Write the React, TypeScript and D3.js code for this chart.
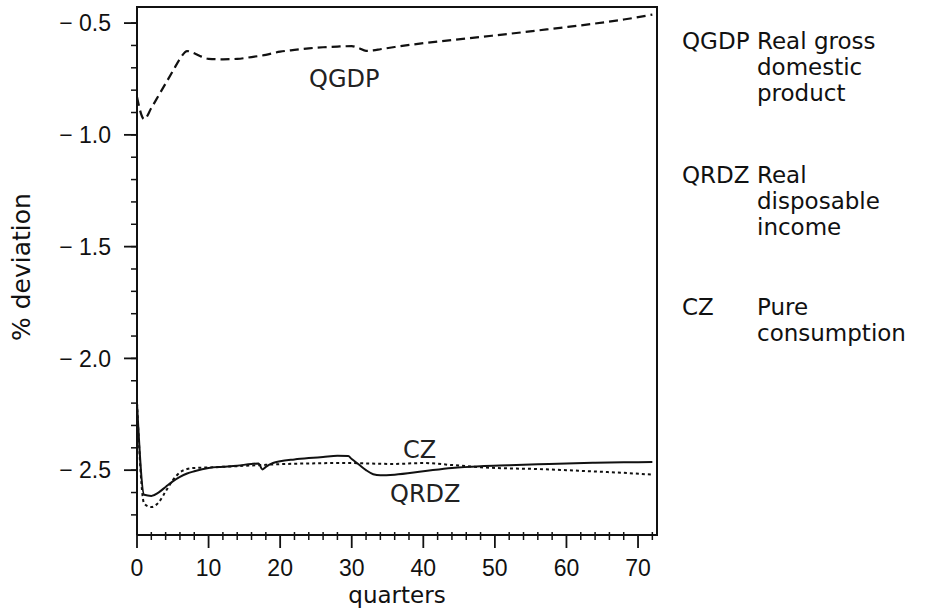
import * as d3 from 'd3';

// quarters and % deviation
const gdpQuarters = [0, 1, 2, 3, 4, 5, 6, 7, 8, 9, 10, 12, 14, 16, 18, 20, 22, 24, 26, 28, 30, 31, 32, 33, 34, 36, 40, 44, 48, 52, 56, 60, 64, 68, 72];
const gdpValues = [-0.83, -0.93, -0.88, -0.825, -0.77, -0.715, -0.66, -0.625, -0.635, -0.65, -0.66, -0.662, -0.66, -0.652, -0.642, -0.628, -0.62, -0.613, -0.608, -0.605, -0.603, -0.612, -0.624, -0.622, -0.617, -0.607, -0.59, -0.576, -0.562, -0.548, -0.533, -0.518, -0.502, -0.484, -0.462];

const rdzQuarters = [0, 1, 2, 3, 4, 5, 6, 7, 8, 10, 12, 14, 16, 17, 17.5, 18, 19, 20, 22, 24, 26, 28, 29.5, 30, 31, 32, 33, 34, 36, 40, 44, 48, 52, 56, 60, 64, 68, 72];
const rdzValues = [-2.2, -2.61, -2.615, -2.6, -2.575, -2.55, -2.53, -2.515, -2.505, -2.49, -2.485, -2.48, -2.472, -2.47, -2.497, -2.485, -2.468, -2.46, -2.452, -2.446, -2.441, -2.436, -2.437, -2.45, -2.475, -2.5, -2.518, -2.523, -2.52, -2.505, -2.49, -2.482, -2.478, -2.474, -2.47, -2.467, -2.465, -2.463];

const czQuarters = [0, 1, 2, 3, 4, 5, 6, 7, 8, 10, 12, 14, 16, 18, 20, 24, 28, 30, 32, 36, 40, 44, 48, 52, 56, 60, 64, 68, 72];
const czValues = [-2.2, -2.65, -2.665, -2.645, -2.595, -2.545, -2.51, -2.495, -2.49, -2.488, -2.485, -2.482, -2.479, -2.476, -2.473, -2.47, -2.468, -2.468, -2.47, -2.472, -2.468, -2.477, -2.487, -2.492, -2.495, -2.5, -2.506, -2.512, -2.52];

const yMajor = [-0.5, -1.0, -1.5, -2.0, -2.5];
const xMajor = [0, 10, 20, 30, 40, 50, 60, 70];

const legendRows = [
  { code: 'QGDP', lines: ['Real gross', 'domestic', 'product'] },
  { code: 'QRDZ', lines: ['Real', 'disposable', 'income'] },
  { code: 'CZ', lines: ['Pure', 'consumption'] },
];

const width = 928;
const height = 608;
const tickFont = '"Liberation Sans", Arial, sans-serif';
const labelFont = '"DejaVu Sans", sans-serif';

export default function App() {
  const x = d3.scaleLinear().domain([0, 72.65]).range([137, 657]);
  const y = d3.scaleLinear().domain([-2.79, -0.428]).range([535, 7]);

  const line = d3.line<[number, number]>()
    .x(d => x(d[0]))
    .y(d => y(d[1]))
    .curve(d3.curveMonotoneX);

  const gdp = gdpQuarters.map((q, i) => [q, gdpValues[i]] as [number, number]);
  const rdz = rdzQuarters.map((q, i) => [q, rdzValues[i]] as [number, number]);
  const cz = czQuarters.map((q, i) => [q, czValues[i]] as [number, number]);

  const yMinor = d3.range(-27, -4).map(v => v / 10);
  const xMinor = d3.range(0, 74, 2).filter(v => v % 10 !== 0);

  const legendY = [49, 183, 315];

  return (
    <svg width={width} height={height} style={{ position: 'absolute', left: 0, top: 0, background: '#fff' }}
      fontFamily={tickFont}>
      {/* frame */}
      <path d={`M${x(0)},${y(-2.79)}V7H657V535H${x(0)}`} fill="none" stroke="#111" strokeWidth={2} />

      {/* y axis ticks */}
      {yMinor.map(v => (
        <line key={'ym' + v} x1={131} x2={137} y1={y(v)} y2={y(v)} stroke="#111" strokeWidth={1.5} />
      ))}
      {yMajor.map(v => (
        <g key={'yM' + v}>
          <line x1={124} x2={137} y1={y(v)} y2={y(v)} stroke="#111" strokeWidth={1.8} />
          <text x={111} y={y(v)} dy="0.36em" textAnchor="end" fontSize={23} fill="#111">
            {'− ' + Math.abs(v).toFixed(1)}
          </text>
        </g>
      ))}

      {/* x axis ticks */}
      {xMinor.map(v => (
        <line key={'xm' + v} x1={x(v)} x2={x(v)} y1={532} y2={540} stroke="#111" strokeWidth={1.5} />
      ))}
      {xMajor.map(v => (
        <g key={'xM' + v}>
          <line x1={x(v)} x2={x(v)} y1={535} y2={548} stroke="#111" strokeWidth={1.8} />
          <text x={x(v)} y={576} textAnchor="middle" fontSize={23} fill="#111">{v}</text>
        </g>
      ))}

      <text x={397} y={603} textAnchor="middle" fontSize={23} fontFamily={labelFont} fill="#111">quarters</text>
      <text transform="translate(30,267) rotate(-90)" textAnchor="middle" fontSize={25} fontFamily={labelFont} fill="#111">% deviation</text>

      {/* series */}
      <path d={line(gdp) ?? ''} fill="none" stroke="#111" strokeWidth={2.2} strokeDasharray="9 5" />
      <path d={line(cz) ?? ''} fill="none" stroke="#111" strokeWidth={2} strokeDasharray="3 3" />
      <path d={line(rdz) ?? ''} fill="none" stroke="#111" strokeWidth={2} />

      {/* in-plot labels */}
      <g fontFamily={labelFont} fontSize={24} fill="#222">
        <text x={309} y={87}>QGDP</text>
        <text x={403} y={458}>CZ</text>
        <text x={390} y={502}>QRDZ</text>
      </g>

      {/* legend */}
      <g fontFamily={labelFont} fontSize={23} fill="#111">
        {legendRows.map((r, i) => (
          <g key={r.code}>
            <text x={682} y={legendY[i]}>{r.code}</text>
            {r.lines.map((t, j) => (
              <text key={t} x={757} y={legendY[i] + j * 26}>{t}</text>
            ))}
          </g>
        ))}
      </g>
    </svg>
  );
}
